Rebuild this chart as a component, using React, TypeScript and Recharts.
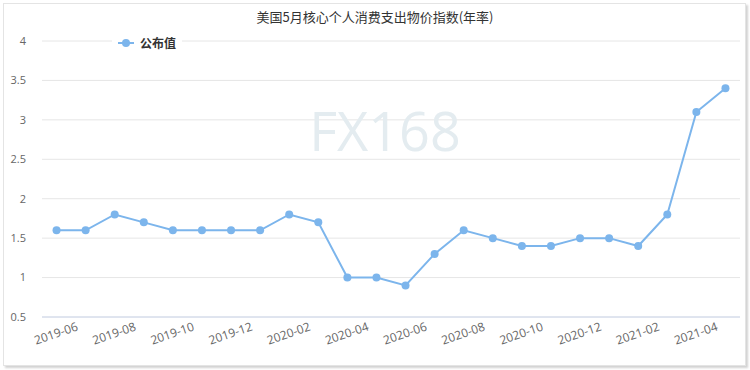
import { LineChart, Line, XAxis, YAxis, CartesianGrid } from 'recharts'

const months = [
  '2019-05', '2019-06', '2019-07', '2019-08', '2019-09', '2019-10', '2019-11', '2019-12',
  '2020-01', '2020-02', '2020-03', '2020-04', '2020-05', '2020-06', '2020-07', '2020-08',
  '2020-09', '2020-10', '2020-11', '2020-12', '2021-01', '2021-02', '2021-03', '2021-04',
]
const published = [
  1.6, 1.6, 1.8, 1.7, 1.6, 1.6, 1.6, 1.6,
  1.8, 1.7, 1.0, 1.0, 0.9, 1.3, 1.6, 1.5,
  1.4, 1.4, 1.5, 1.5, 1.4, 1.8, 3.1, 3.4,
]
const yTicks = [0.5, 1, 1.5, 2, 2.5, 3, 3.5, 4]

const title = '美国5月核心个人消费支出物价指数(年率)'
const seriesName = '公布值'
const color = '#7cb5ec'
const font = '"Open Sans", "Noto Sans CJK SC", sans-serif'

const data = months.map((m, i) => ({ month: m, value: published[i] }))

const MonthTick = (props: any) => {
  const { x, y, payload } = props
  if (payload.index % 2 === 0) return null
  const tx = x - 7
  const ty = y + 5
  return (
    <text
      x={tx}
      y={ty}
      textAnchor="end"
      fontSize={12}
      fill="#666"
      fontFamily={font}
      transform={`rotate(-19 ${tx} ${ty})`}
    >
      {payload.value}
    </text>
  )
}

export default function App() {
  return (
    <div style={{ position: 'fixed', left: 0, top: 0, width: 750, height: 370, background: '#fff' }}>
      <div
        style={{
          position: 'absolute',
          left: 3,
          top: 3,
          width: 741,
          height: 361,
          border: '1px solid #e4e4e4',
          boxShadow: '2px 2px 2px rgba(0,0,0,0.18)',
        }}
      />
      <div
        style={{
          position: 'absolute',
          left: 0,
          top: 7,
          width: 750,
          textAlign: 'center',
          fontFamily: '"Noto Sans CJK SC", sans-serif',
          fontSize: 13,
          color: '#333',
        }}
      >
        {title}
      </div>
      <div style={{ position: 'absolute', left: 0, top: 0 }}>
        <LineChart width={750} height={370} data={data} margin={{ top: 41, right: 10, left: 0, bottom: 13 }}>
          <CartesianGrid vertical={false} stroke="#e6e6e6" />
          <text
            x={385}
            y={151}
            textAnchor="middle"
            fontSize={54}
            fontFamily='"Open Sans", sans-serif'
            fill="#e4ecf0"
          >
            FX168
          </text>
          <XAxis
            dataKey="month"
            scale="band"
            interval={0}
            tickLine={false}
            axisLine={{ stroke: '#ccd6eb' }}
            tick={<MonthTick />}
            height={40}
          />
          <YAxis
            domain={[0.5, 4]}
            ticks={yTicks}
            width={42}
            tickLine={false}
            axisLine={false}
            tickMargin={10}
            tick={{ fontSize: 11, fill: '#666', fontFamily: font }}
          />
          <Line
            type="linear"
            dataKey="value"
            name={seriesName}
            stroke={color}
            strokeWidth={2}
            dot={{ r: 4, fill: color, stroke: color, strokeWidth: 0 }}
            activeDot={false}
            isAnimationActive={false}
          />
        </LineChart>
      </div>
      <div
        style={{
          position: 'absolute',
          left: 112,
          top: 34,
          display: 'flex',
          alignItems: 'center',
          background: '#fff',
          padding: '0 6px',
          height: 18,
          fontFamily: font,
          fontSize: 12,
          fontWeight: 'bold',
          color: '#333',
        }}
      >
        <svg width={16} height={10} style={{ marginRight: 6 }}>
          <line x1={0} y1={5} x2={16} y2={5} stroke={color} strokeWidth={2} />
          <circle cx={8} cy={5} r={4} fill={color} />
        </svg>
        {seriesName}
      </div>
    </div>
  )
}
